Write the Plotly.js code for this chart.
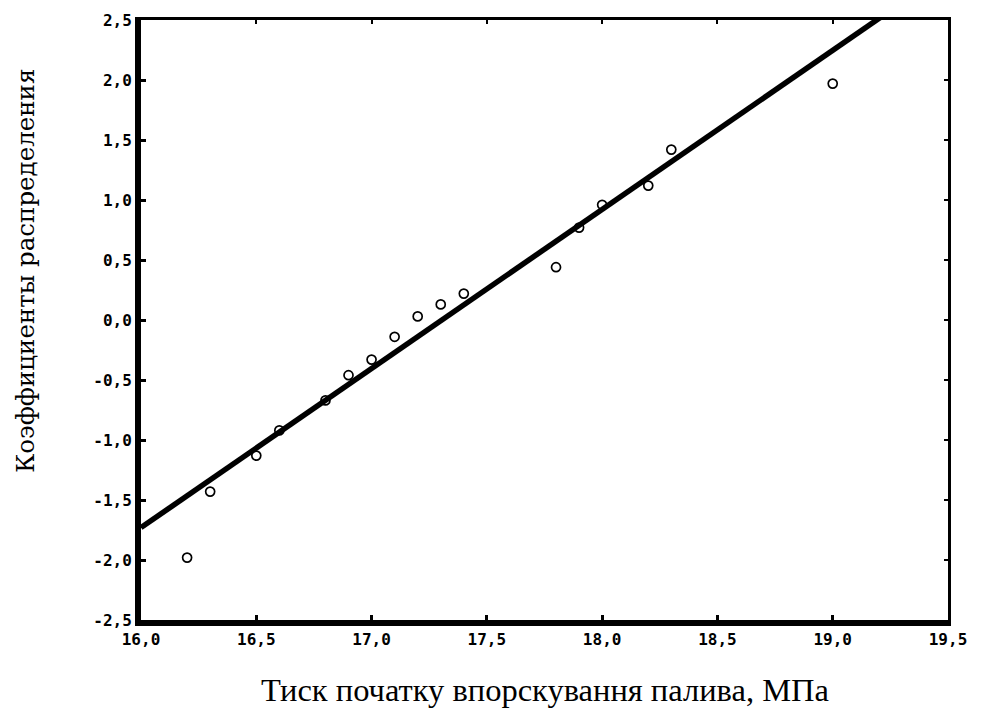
<!DOCTYPE html>
<html>
<head>
<meta charset="utf-8">
<script src="https://cdn.plot.ly/plotly-3.0.1.min.js"></script>
<style>html,body{margin:0;padding:0;background:#fff;}#chart{width:983px;height:711px;}</style>
</head>
<body>
<div id="chart"></div>
<script>
// Observed points
const pressure = [16.2, 16.3, 16.5, 16.6, 16.8, 16.9, 17.0, 17.1, 17.2, 17.3, 17.4, 17.8, 17.9, 18.0, 18.2, 18.3, 19.0];
const coeff = [-1.98, -1.43, -1.13, -0.92, -0.67, -0.46, -0.33, -0.14, 0.03, 0.13, 0.22, 0.44, 0.77, 0.96, 1.12, 1.42, 1.97];
// Fitted line endpoints
const fitX = [16.0, 19.5];
const fitY = [-1.73, 2.91];
const xTicks = [16.0, 16.5, 17.0, 17.5, 18.0, 18.5, 19.0, 19.5];
const yTicks = [-2.5, -2.0, -1.5, -1.0, -0.5, 0.0, 0.5, 1.0, 1.5, 2.0, 2.5];
const xTitle = 'Тиск початку впорскування палива, МПа';
const yTitle = 'Коэффициенты распределения';

const fmt = v => v.toFixed(1).replace('.', ',');
const xTickText = xTicks.map(fmt);
const yTickText = yTicks.map(fmt);

const traces = [
  {x: fitX, y: fitY, mode: 'lines', line: {color: '#000', width: 5.5}, hoverinfo: 'skip'},
  {x: pressure, y: coeff, mode: 'markers', marker: {symbol: 'circle-open', size: 9, color: '#000', line: {width: 1.7, color: '#000'}}},
  {x: [16.0], y: [-2.5], xaxis: 'x2', yaxis: 'y2', mode: 'markers', marker: {opacity: 0}, hoverinfo: 'skip'}
];

const tickFont = {family: 'DejaVu Sans Mono', size: 16, color: '#000', weight: 'bold'};
const layout = {
  width: 983, height: 711,
  margin: {l: 141, r: 35, t: 20, b: 91},
  paper_bgcolor: '#fff', plot_bgcolor: '#fff',
  showlegend: false,
  xaxis: {
    range: [16.0, 19.5], tickvals: xTicks, ticktext: xTickText,
    showgrid: false, zeroline: false,
    showline: true, linewidth: 6, linecolor: '#000',
    ticks: 'inside', ticklen: 5, tickwidth: 3, tickcolor: '#000',
    tickfont: tickFont
  },
  yaxis: {
    range: [-2.5, 2.5], tickvals: yTicks, ticktext: yTickText,
    showgrid: false, zeroline: false,
    showline: true, linewidth: 6, linecolor: '#000',
    ticks: 'inside', ticklen: 5, tickwidth: 3, tickcolor: '#000',
    tickfont: tickFont
  },
  xaxis2: {
    overlaying: 'x', side: 'top', range: [16.0, 19.5], tickvals: xTicks,
    showticklabels: false, showgrid: false, zeroline: false,
    showline: true, linewidth: 3, linecolor: '#000',
    ticks: 'inside', ticklen: 4, tickwidth: 2, tickcolor: '#000'
  },
  yaxis2: {
    overlaying: 'y', side: 'right', range: [-2.5, 2.5], tickvals: yTicks,
    showticklabels: false, showgrid: false, zeroline: false,
    showline: true, linewidth: 3, linecolor: '#000',
    ticks: 'inside', ticklen: 4, tickwidth: 2, tickcolor: '#000'
  },
  annotations: [
    {text: xTitle, xref: 'paper', yref: 'paper', x: 0.5, y: -0.1167, xanchor: 'center', yanchor: 'middle',
     showarrow: false, font: {family: 'Liberation Serif', size: 32.5, color: '#000'}},
    {text: yTitle, xref: 'paper', yref: 'paper', x: -0.1425, y: 0.582, xanchor: 'center', yanchor: 'middle',
     textangle: -90, showarrow: false, font: {family: 'DejaVu Serif', size: 24.5, color: '#000'}}
  ]
};

Plotly.newPlot('chart', traces, layout, {displayModeBar: false, staticPlot: true});
</script>
</body>
</html>
